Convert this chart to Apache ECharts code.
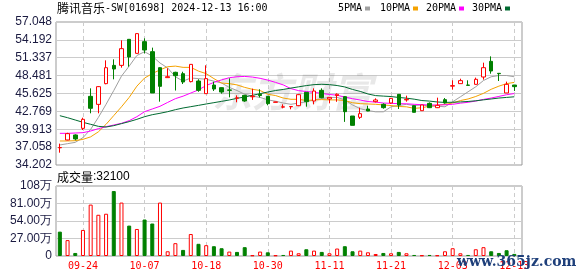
<!DOCTYPE html>
<html><head><meta charset="utf-8">
<script src="https://cdn.jsdelivr.net/npm/echarts@6/dist/echarts.min.js"></script>
<style>html,body{margin:0;padding:0;background:#fff}#c{width:578px;height:276px}</style>
</head><body><div id="c"></div><script>
const dates = ['09-19','09-20','09-23','09-24','09-25','09-26','09-27','09-30','10-02','10-03','10-04','10-07','10-08','10-09','10-10','10-14','10-15','10-16','10-17','10-18','10-21','10-22','10-23','10-24','10-25','10-28','10-29','10-30','10-31','11-01','11-04','11-05','11-06','11-07','11-08','11-11','11-12','11-13','11-14','11-15','11-18','11-19','11-20','11-21','11-22','11-25','11-26','11-27','11-28','11-29','12-02','12-03','12-04','12-05','12-06','12-09','12-10','12-11','12-12','12-13'];
const open  = [36.95,38.20,39.00,40.06,45.17,43.89,47.20,50.12,50.12,54.28,52.04,53.91,52.31,49.75,48.16,49.01,48.79,47.52,47.62,45.60,46.98,46.56,46.20,44.88,45.33,45.10,45.50,45.17,44.22,43.45,43.50,43.68,45.81,44.43,46.13,44.75,45.30,45.12,42.03,41.82,43.15,44.32,43.90,44.11,45.49,44.60,43.68,42.88,44.05,43.36,44.64,46.80,47.20,46.98,47.09,48.26,50.76,48.85,45.71,46.98];
const close = [37.00,39.21,38.36,41.50,43.26,46.72,49.75,49.54,52.79,51.46,55.19,52.57,45.71,46.77,48.31,48.47,47.46,50.28,46.13,48.00,46.34,45.86,46.13,44.93,44.43,45.20,45.30,44.00,44.27,43.50,43.55,45.44,44.32,46.02,44.96,45.01,45.50,42.72,40.54,42.40,42.83,44.59,43.36,44.85,43.79,44.69,42.62,43.79,43.36,43.73,44.11,46.88,47.68,46.93,47.89,49.75,49.22,48.79,47.09,46.72];
const low   = [36.17,38.15,38.14,39.79,42.46,42.46,47.10,47.89,49.75,49.91,52.00,52.04,45.71,44.32,48.16,46.10,47.14,47.40,45.90,45.60,46.03,45.60,45.01,44.22,44.30,44.60,45.00,43.74,44.20,43.26,43.10,43.60,43.52,43.90,44.85,44.05,44.30,41.09,40.54,41.55,42.80,44.20,43.20,44.00,43.15,44.32,42.60,42.85,43.30,43.30,44.00,46.24,47.20,46.90,47.05,47.84,48.79,47.62,45.70,46.03];
const high  = [37.61,39.35,39.10,41.76,46.45,46.80,50.92,51.08,54.12,54.30,55.25,54.44,52.95,49.80,49.65,49.10,49.10,50.30,47.90,50.13,47.51,46.60,48.05,45.33,45.40,46.40,46.30,45.20,44.30,43.90,43.60,45.50,45.85,46.45,46.45,45.05,45.65,45.20,42.03,43.36,43.68,44.85,44.05,44.90,45.50,45.28,43.70,43.80,44.20,44.96,44.90,47.73,47.99,47.73,48.16,50.55,51.56,48.90,47.52,47.00];
const prevClose = 37.20;
const volume = [376000,245000,47000,402000,793000,636000,652000,1002000,824000,469000,417000,563000,501000,824000,73000,198000,94000,339000,188000,167000,151000,120000,68000,63000,136000,10000,68000,57000,10000,16000,83000,42000,104000,83000,63000,42000,115000,151000,73000,83000,57000,31000,47000,42000,63000,42000,16000,10000,16000,10000,73000,120000,42000,16000,104000,136000,73000,47000,89000,32100];
const ma5  = [37.40,37.61,37.82,38.57,39.9,41.8,43.9,46.1,48.4,50.0,51.7,52.3,51.6,50.5,49.7,48.3,47.6,48.1,48.0,47.9,47.6,47.3,46.6,46.1,45.5,45.2,45.0,44.6,44.4,44.1,43.9,44.1,44.3,44.6,44.8,45.0,45.0,44.6,43.8,43.2,42.9,42.7,42.7,43.5,43.7,43.9,43.7,43.8,43.6,43.6,43.5,44.3,45.1,45.9,46.7,47.7,48.3,48.5,48.5,48.3];
const ma10 = [38.04,38.04,38.09,38.3,38.7,39.5,40.7,42.1,43.5,45.0,46.8,48.1,48.8,49.4,49.9,50.0,49.8,49.8,49.2,48.8,48.0,47.3,47.2,47.0,46.6,46.3,46.1,45.5,45.3,44.9,44.7,44.7,44.5,44.6,44.65,44.6,44.6,44.5,44.15,44.0,43.95,43.9,43.8,43.7,43.55,43.5,43.25,43.35,43.6,43.75,43.9,44.1,44.5,44.75,45.15,45.65,46.3,46.8,47.2,47.4];
const ma20 = [39.26,39.26,39.31,39.37,39.63,40.01,40.33,40.59,40.86,41.29,41.92,42.72,43.15,43.58,44.2,44.8,45.2,45.7,46.2,46.9,47.4,47.8,48.15,48.3,48.35,48.25,48.05,47.76,47.4,47.0,46.4,46.08,45.94,45.82,45.63,45.47,45.35,45.05,44.8,44.58,44.34,44.25,44.1,44.05,44.0,43.98,43.9,43.84,43.79,43.79,43.82,43.9,44.08,44.22,44.42,44.68,44.9,45.16,45.43,45.62];
const ma30 = [42.08,41.76,41.39,41.02,40.70,40.38,40.27,40.49,40.81,41.13,41.50,41.92,42.24,42.46,42.72,43.04,43.31,43.52,43.73,43.95,44.16,44.37,44.59,44.85,45.07,45.33,45.60,45.86,46.10,46.27,46.49,46.69,46.89,47.04,47.10,47.04,46.90,46.67,46.27,45.96,45.55,45.29,45.21,45.14,44.99,44.88,44.72,44.50,44.41,44.27,44.20,44.23,44.28,44.35,44.46,44.61,44.75,44.90,45.00,45.10];
const priceTicks = [34.202,37.058,39.913,42.769,45.625,48.481,51.337,54.192,57.048];
const dateTickIdx = [3,11,19,27,35,43,51,59];
const volMax = 1080000, volStep = 270000;
const maNames = ['5PMA','10PMA','20PMA','30PMA'];
const maColors = ['#a0a0a0','#f5a200','#ff00ff','#006a30'];

const RED = '#ff0000', GREEN = '#008000';
const candleData = dates.map((d,i)=>[i, open[i], close[i], low[i], high[i]]);
const toLine = arr => arr.map((v,i)=>[i,v]);
const volData = volume.map((v,i)=>{
  const up = close[i] >= (i ? close[i-1] : prevClose);
  return {value:[i,v], itemStyle: up ? {color:'#fff', borderColor:RED, borderWidth:1} : {color:GREEN, borderColor:GREEN, borderWidth:1}};
});
const mas = [ma5, ma10, ma20, ma30];
const lineSeries = mas.map((m,k)=>({
  name: maNames[k], type:'line', xAxisIndex:0, yAxisIndex:0, data: toLine(m),
  symbol:'none', silent:true, lineStyle:{width:1, color:maColors[k]}, itemStyle:{color:maColors[k]}, z:3
}));

const mono = '"DejaVu Sans Mono", monospace';
const sans = '"Liberation Sans", Arial, sans-serif';
const cjk = '"Noto Sans CJK SC", sans-serif';
const legendX = [338, 380, 426, 472];
const legendSq = [365, 413, 459, 505];
const graphics = [
  {type:'text', left:212, top:72, z:1, silent:true, style:{text:'东方财富', font:'italic bold 40px "Noto Sans CJK SC"', fill:'rgba(0,0,0,0.09)'}},
  {type:'text', x:57, y:8, z:10, style:{text:'{a|腾讯音乐}{b|-SW[01698] 2024-12-13 16:00}', verticalAlign:'middle', rich:{a:{font:'12px '+cjk, fill:'#000'}, b:{font:'10px '+mono, fill:'#000'}}}},
  {type:'text', x:57, y:177, z:10, style:{text:'{a|成交量}{b|:' + volume[volume.length-1] + '}', verticalAlign:'middle', rich:{a:{font:'12px '+cjk, fill:'#000'}, b:{font:'12px '+sans, fill:'#000'}}}},
  {type:'text', x:457, y:262, z:20, style:{text:'www.365jz.com', font:'bold 14px "DejaVu Serif", serif', fill:'#1e3f7a', verticalAlign:'middle'}}
];
maNames.forEach((n,k)=>{
  graphics.push({type:'text', x:legendX[k], y:8, z:10, style:{text:n, font:'10px '+mono, fill:'#000', verticalAlign:'middle'}});
  graphics.push({type:'rect', z:10, shape:{x:legendSq[k], y:6.5, width:5, height:4}, style:{fill:maColors[k]}});
});

const xCommon = (gi, showLabel) => ({
  type:'value', gridIndex:gi, min:-0.5, max:60,
  axisLine:{show:false},
  axisTick:{show:false, customValues:dateTickIdx},
  axisLabel:{show:showLabel, customValues:dateTickIdx, formatter:v=>dates[Math.round(v)] || '', color:RED, fontFamily:mono, fontSize:10, margin:5},
  splitLine:{show:true, lineStyle:{color:'#cccccc', type:[4,3], width:1}}
});

const option = {
  animation:false,
  backgroundColor:'#fff',
  graphic: graphics,
  grid:[
    {left:56, top:22, width:466, height:143, show:true, borderColor:'#999', borderWidth:1, backgroundColor:'transparent'},
    {left:56, top:186, width:466, height:70, show:true, borderColor:'#999', borderWidth:1, backgroundColor:'transparent'}
  ],
  xAxis:[xCommon(0,false), xCommon(1,true)],
  yAxis:[
    {type:'value', gridIndex:0, min:priceTicks[0], max:priceTicks[priceTicks.length-1],
     axisLine:{show:false}, axisTick:{show:false, customValues:priceTicks},
     axisLabel:{customValues:priceTicks, formatter:v=>v.toFixed(3), color:'#1a1a40', fontFamily:sans, fontSize:12, margin:4},
     splitLine:{show:true, lineStyle:{color:'#cccccc', width:1}}},
    {type:'value', gridIndex:1, min:0, max:volMax, interval:volStep,
     axisLine:{show:false}, axisTick:{show:false},
     axisLabel:{formatter:v=> v===0 ? '0' : (v===volMax ? (v/10000)+'万' : (v/10000).toFixed(2)+'万'), color:'#1a1a40', fontFamily:sans, fontSize:12, margin:4},
     splitLine:{show:true, lineStyle:{color:'#cccccc', width:1}}}
  ],
  series:[
    {type:'candlestick', xAxisIndex:0, yAxisIndex:0, data:candleData, encode:{x:0, y:[1,2,3,4]},
     barWidth:4, silent:true, z:4,
     itemStyle:{color:'#fff', color0:GREEN, borderColor:RED, borderColor0:GREEN, borderWidth:1}},
    ...lineSeries,
    {type:'bar', xAxisIndex:1, yAxisIndex:1, data:volData, barWidth:4, silent:true, encode:{x:0, y:1}}
  ]
};
const chart = echarts.init(document.getElementById('c'), null, {renderer:'canvas'});
chart.setOption(option);
</script></body></html>
